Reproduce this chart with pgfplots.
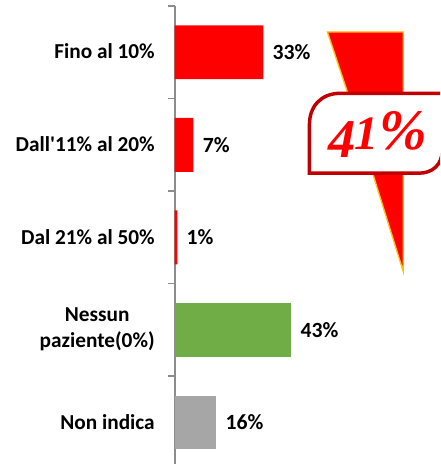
\documentclass[border=0pt]{standalone}
\usepackage{fontspec}
\setmainfont{Carlito}[Ligatures=TeXOff]
\newfontfamily\serifbi{Liberation Serif}
\usepackage{pgfplots}
\pgfplotsset{compat=1.18}
\definecolor{barred}{HTML}{FF0000}
\definecolor{bargreen}{HTML}{70AD47}
\definecolor{bargray}{HTML}{A6A6A6}
\definecolor{axisgray}{HTML}{8C8C8C}
\definecolor{darkred}{HTML}{C00000}
\definecolor{boltedge}{HTML}{FFC000}

\begin{document}
\begin{tikzpicture}[x=1pt,y=1pt]
\begin{axis}[
  at={(0,0)}, anchor=south west,
  scale only axis,
  width=199.5pt, height=344.25pt,
  xmin=0, xmax=98.9,
  ymin=-0.5, ymax=4.45,
  y dir=reverse,
  xbar, bar shift=0pt, bar width=40.5pt,
  axis x line=none,
  axis y line*=left,
  axis line style={axisgray, line width=1.3pt, -},
  tick style={axisgray, line width=1.1pt},
  ytick={0,1,2,3,4},
  yticklabels={Fino al 10\%,Dall'11\% al 20\%,Dal 21\% al 50\%,Nessun\\paziente(0\%),Non indica},
  major tick length=0pt,
  tick align=outside,
  yticklabel style={font=\fontsize{16}{20}\selectfont\bfseries, align=center, anchor=east, xshift=-11.5pt, yshift=0.5pt, text=black},
  extra y ticks={-0.5,0.5,1.5,2.5,3.5},
  extra y tick labels={},
  extra tick style={major tick length=5.2pt},
  clip=false,
  point meta=explicit symbolic,
  nodes near coords,
  every node near coord/.append style={font=\fontsize{16.3}{18}\selectfont\bfseries, anchor=west, xshift=3.5pt, text=black},
]
\addplot[draw=none, fill=barred] coordinates {(33,0) [33\%] (7,1) [7\%] (1,2) [1\%]};
\addplot[draw=none, fill=bargreen] coordinates {(43.4,3) [43\%]};
\addplot[draw=none, fill=bargray] coordinates {(15.5,4) [16\%]};
\end{axis}
\path[use as bounding box] (-131.25pt,0) rectangle (199.5pt,348.75pt);
\begin{scope}[shift={(-131.25pt,348.75pt)}, x=0.75pt, y=-0.75pt]
  \clip (0,0) rectangle (441,465);
  \draw[fill=barred, draw=boltedge, line width=1pt, line join=miter]
    (328,32) -- (404,32) -- (404,272) -- (366,150) -- (352,104) -- cycle;
  \draw[fill=white, draw=darkred, line width=2.6pt]
    (310,173.5) -- (310,125) .. controls (310,106) and (322,93.5) .. (341,93.5)
    -- (443,93.5) -- (443,151) .. controls (443,165) and (433,173.5) .. (420,173.5)
    -- cycle;
  \node[text=barred, inner sep=0pt, anchor=base west] at (329,149.5)
    {\serifbi\bfseries\itshape\fontsize{41}{41}\selectfont\raisebox{-6.5pt}{4}\kern-1pt{\fontsize{36}{36}\selectfont 1}\kern1pt\fontsize{43}{43}\selectfont\%};
\end{scope}
\end{tikzpicture}
\end{document}
